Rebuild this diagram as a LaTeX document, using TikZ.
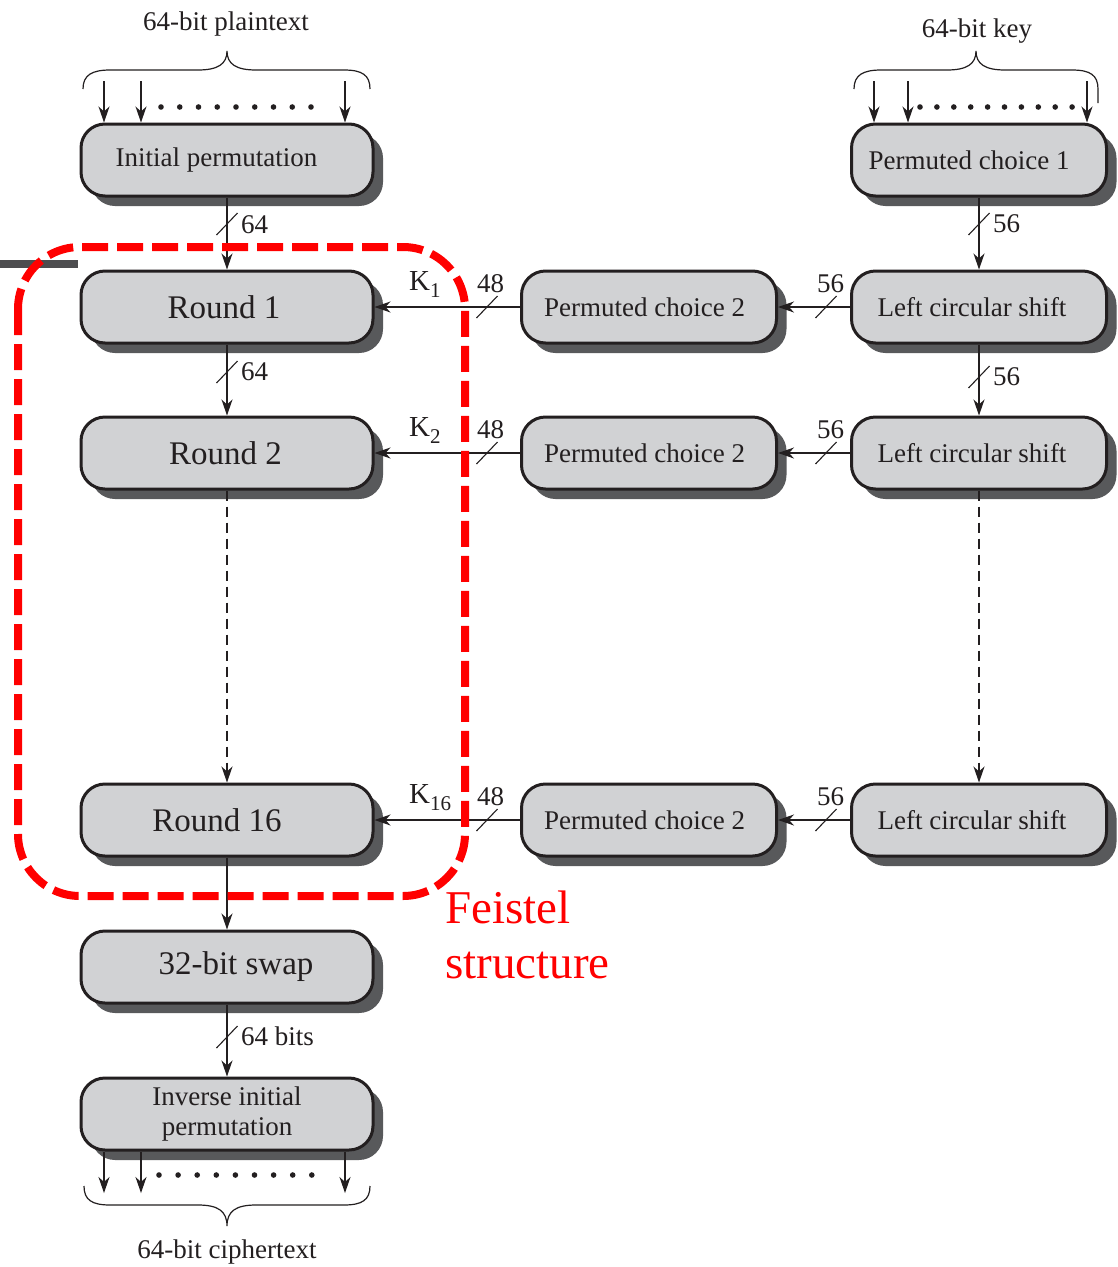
\documentclass[tikz,border=0pt]{standalone}
\usepackage{fontspec}
\setmainfont{Liberation Serif}
\usetikzlibrary{arrows.meta,shadows}

\definecolor{boxfill}{HTML}{D1D2D4}
\definecolor{boxshade}{HTML}{58595B}
\definecolor{ink}{HTML}{231F20}
\definecolor{bar}{HTML}{4D4D4F}
\definecolor{feistelred}{HTML}{FF0000}

% subkey label: K with a lowered index
\newcommand\subkey[1]{K\raisebox{-7pt}{\fontsize{21}{21}\selectfont #1}}

\tikzset{
  stagebox/.style={draw=ink, line width=3pt, fill=boxfill, rounded corners=24pt,
    minimum height=72pt, inner sep=0pt, text=ink,
    font=\fontsize{27}{30}\selectfont,
    general shadow={fill=boxshade, shadow xshift=10pt, shadow yshift=-10pt}},
  widebox/.style={stagebox, minimum width=292pt},
  narrowbox/.style={stagebox, minimum width=255pt},
  roundbox/.style={widebox, font=\fontsize{33}{36}\selectfont},
  conn/.style={draw=ink, line width=1.3pt,
    -{Stealth[length=16pt, width=11pt, inset=5pt]}},
  dashconn/.style={conn, dash pattern=on 10pt off 6pt},
  slash/.style={draw=ink, line width=1.1pt},
  bits/.style={anchor=base west, inner sep=0pt, text=ink,
    font=\fontsize{27}{30}\selectfont},
  keylbl/.style={anchor=base west, inner sep=0pt, text=ink,
    font=\fontsize{29}{30}\selectfont},
  title/.style={anchor=base, inner sep=0pt, text=ink,
    font=\fontsize{27}{30}\selectfont},
  brace/.style={draw=ink, line width=1.2pt},
  bitdot/.style={fill=ink},
  feistel/.style={draw=feistelred, line width=8pt, rounded corners=62pt,
    dash pattern=on 26pt off 9pt},
  feistellbl/.style={anchor=base west, inner sep=0pt, text=feistelred,
    font=\fontsize{47}{50}\selectfont},
}

\begin{document}
\begin{tikzpicture}[x=1pt, y=-1pt]
\fill[white] (0,0) rectangle (1117,1267);
\useasboundingbox (0,0) rectangle (1117,1267);

% dark rule at the left edge
\fill[bar] (0,260) rectangle (78,268);

% ---- data path (left column) ----
\node[widebox]   (ip)   at (227,160)  {Initial permutation\kern21pt};
\node[roundbox]  (r1)   at (227,307)  {Round 1\kern6pt};
\node[roundbox]  (r2)   at (227,453)  {Round 2\kern3pt};
\node[roundbox]  (r16)  at (227,820)  {Round 16\kern20pt};
\node[roundbox]  (swap) at (227,967)  {\kern18pt 32-bit swap};
\node[widebox, align=center] (iip) at (227,1114) {Inverse initial\\permutation};

% ---- subkey generation ----
\node[narrowbox] (pc2a) at (649,307) {Permuted choice 2\kern9pt};
\node[narrowbox] (pc2b) at (649,453) {Permuted choice 2\kern9pt};
\node[narrowbox] (pc2p) at (649,820) {Permuted choice 2\kern9pt};

\node[narrowbox] (pc1)  at (979,160) {Permuted choice 1\kern20pt};
\node[narrowbox] (lcsa) at (979,307) {Left circular shift\kern14pt};
\node[narrowbox] (lcsb) at (979,453) {Left circular shift\kern14pt};
\node[narrowbox] (lcsp) at (979,820) {Left circular shift\kern14pt};

% ---- vertical flow ----
\draw[conn] (ip) -- (r1);
\draw[slash] (227,224) +(-10.5,11) -- +(10.5,-11);
\node[bits] (w1) at (241,233) {64};

\draw[conn] (r1) -- (r2);
\draw[slash] (227,372) +(-10.5,11) -- +(10.5,-11);
\node[bits] (w2) at (241,380) {64};

\draw[dashconn] (r2) -- (r16);
\draw[conn] (r16) -- (swap);

\draw[conn] (swap) -- (iip);
\draw[slash] (227,1037) +(-10.5,11) -- +(10.5,-11);
\node[bits] (w3) at (241,1045) {64 bits};

\draw[conn] (pc1) -- (lcsa);
\draw[slash] (979,224) +(-10.5,11) -- +(10.5,-11);
\node[bits] (w4) at (993,232) {56};

\draw[conn] (lcsa) -- (lcsb);
\draw[slash] (979,377) +(-10.5,11) -- +(10.5,-11);
\node[bits] (w5) at (993,385) {56};

\draw[dashconn] (lcsb) -- (lcsp);

% ---- subkeys into the rounds ----
\foreach \row/\pc/\ls/\rd/\y/\k in {a/pc2a/lcsa/r1/307/1, b/pc2b/lcsb/r2/453/2, p/pc2p/lcsp/r16/820/16}{
  \draw[conn] (\pc) -- (\rd);
  \draw[slash] (487,\y) +(-10.5,11) -- +(10.5,-11);
  \node[bits] (k48\row) at (477,\y-15) {48};
  \node[keylbl] (key\row) at (409,\y-17) {\subkey{\k}};
  \draw[conn] (\ls) -- (\pc);
  \draw[slash] (826,\y) +(-10.5,11) -- +(10.5,-11);
  \node[bits] (k56\row) at (817,\y-15) {56};
}

% ---- plaintext input ----
\node[title] (ptxt) at (226,30) {64-bit plaintext};
\draw[brace] (83,89) .. controls (83,75) and (92,70) .. (110,70) -- (198,70)
  .. controls (218,70) and (227,64) .. (227,51)
  .. controls (227,64) and (236,70) .. (256,70) -- (344,70)
  .. controls (362,70) and (370,75) .. (370,89);
\foreach \x [count=\i] in {104,141,345}{
  \coordinate (pin\i) at (\x,81);
  \draw[conn] (pin\i) -- (pin\i |- ip.north);
}
\foreach \i in {0,...,8}{\fill[bitdot] (161+18.75*\i,107) circle (2.8);}

% ---- key input ----
\node[title] (ktxt) at (977,37) {64-bit key};
\draw[brace] (854,89) .. controls (854,75) and (863,70) .. (881,70) -- (947,70)
  .. controls (967,70) and (976,64) .. (976,51)
  .. controls (976,64) and (985,70) .. (1005,70) -- (1072,70)
  .. controls (1090,70) and (1098,75) .. (1098,89) -- (1098,103);
\foreach \x [count=\i] in {874,908,1087}{
  \coordinate (kin\i) at (\x,81);
  \draw[conn] (kin\i) -- (kin\i |- pc1.north);
}
\foreach \i in {0,...,9}{\fill[bitdot] (920+16.9*\i,107) circle (2.8);}

% ---- ciphertext output ----
\foreach \x [count=\i] in {104,141,345}{
  \coordinate (cout\i) at (\x,1193);
  \draw[conn] (cout\i |- iip.south) -- (cout\i);
}
\foreach \i in {0,...,8}{\fill[bitdot] (159+19.1*\i,1175) circle (2.8);}
\draw[brace] (84,1186) .. controls (84,1200) and (92,1205) .. (110,1205) -- (198,1205)
  .. controls (218,1205) and (227,1211) .. (227,1226)
  .. controls (227,1211) and (236,1205) .. (256,1205) -- (344,1205)
  .. controls (362,1205) and (370,1200) .. (370,1186);
\node[title] (ctxt) at (227,1258) {64-bit ciphertext};

% ---- Feistel structure outline ----
\draw[feistel] (18,247) rectangle (465,896);
\node[feistellbl] (fs1) at (445,923) {Feistel};
\node[feistellbl] (fs2) at (445,978) {structure};
\end{tikzpicture}
\end{document}
